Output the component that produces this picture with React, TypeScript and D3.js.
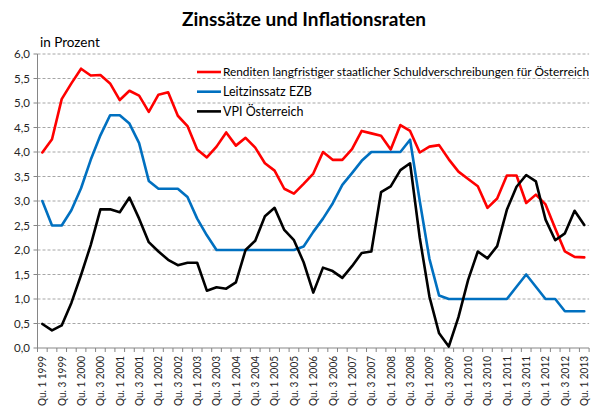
import React from "react";
import * as d3 from "d3";

const years = d3.range(1999, 2014);
const categories: string[] = [];
years.forEach((y) => {
  [1, 2, 3, 4].forEach((q) => {
    if (y < 2013 || q === 1) categories.push(`Qu. ${q} ${y}`);
  });
});

const rendite = [3.99, 4.26, 5.08, 5.40, 5.70, 5.56, 5.57, 5.40, 5.06, 5.25, 5.15, 4.82, 5.17, 5.22, 4.74, 4.53, 4.05, 3.89, 4.11, 4.40, 4.13, 4.29, 4.09, 3.77, 3.62, 3.25, 3.15, 3.35, 3.56, 4.00, 3.84, 3.84, 4.06, 4.43, 4.38, 4.33, 4.05, 4.55, 4.43, 3.99, 4.11, 4.14, 3.85, 3.60, 3.45, 3.30, 2.86, 3.05, 3.52, 3.52, 2.96, 3.13, 2.93, 2.44, 1.97, 1.86, 1.85];
const leitzins = [3.0, 2.5, 2.5, 2.81, 3.26, 3.84, 4.34, 4.75, 4.75, 4.58, 4.18, 3.41, 3.25, 3.25, 3.25, 3.08, 2.64, 2.30, 2.0, 2.0, 2.0, 2.0, 2.0, 2.0, 2.0, 2.0, 2.0, 2.07, 2.37, 2.64, 2.95, 3.33, 3.57, 3.82, 4.0, 4.0, 4.0, 4.0, 4.25, 3.0, 1.82, 1.07, 1.0, 1.0, 1.0, 1.0, 1.0, 1.0, 1.0, 1.25, 1.5, 1.25, 1.0, 1.0, 0.75, 0.75, 0.75];
const vpi = [0.49, 0.36, 0.46, 0.92, 1.49, 2.10, 2.83, 2.83, 2.77, 3.07, 2.64, 2.16, 1.97, 1.80, 1.69, 1.74, 1.74, 1.17, 1.24, 1.21, 1.34, 2.00, 2.19, 2.69, 2.86, 2.41, 2.20, 1.75, 1.13, 1.64, 1.57, 1.43, 1.67, 1.94, 1.97, 3.18, 3.30, 3.63, 3.77, 2.25, 1.05, 0.30, 0.03, 0.63, 1.39, 1.97, 1.83, 2.08, 2.82, 3.29, 3.53, 3.40, 2.62, 2.20, 2.34, 2.80, 2.51];

const seriesNames = [
  "Renditen langfristiger staatlicher Schuldverschreibungen für Österreich",
  "Leitzinssatz EZB",
  "VPI Österreich",
];
const seriesColors = ["#ff0000", "#0070c0", "#000000"];
const yTicks = d3.range(0, 6.01, 0.5);

const W = 603;
const H = 410;
const left = 37.5;
const right = 589.1;
const top = 54;
const bottom = 348;
const FONT = "Lato, 'Open Sans', sans-serif";

export default function App() {
  const x = d3.scaleBand<string>().domain(categories).range([left, right]).padding(0);
  const y = d3.scaleLinear().domain([0, 6]).range([bottom, top]);
  const cx = (i: number) => (x(categories[i]) as number) + x.bandwidth() / 2;
  const line = d3
    .line<number>()
    .x((_, i) => cx(i))
    .y((d) => y(d));
  const allSeries = [rendite, leitzins, vpi];
  const fmt = (v: number) => v.toFixed(1).replace(".", ",");

  return (
    <svg
      width={W}
      height={H}
      style={{ position: "absolute", left: 0, top: 0, background: "#fff" }}
      fontFamily={FONT}
    >
      <rect x={0} y={0} width={W} height={H} fill="#fff" />
      <text x={304} y={26} textAnchor="middle" fontSize={19} fontWeight="bold" fill="#000">
        Zinssätze und Inflationsraten
      </text>
      <text x={40} y={47} fontSize={13.5} fill="#000">
        in Prozent
      </text>
      {/* gridlines */}
      {yTicks.map((t) =>
        t > 0 ? (
          <line
            key={"g" + t}
            x1={left}
            x2={right}
            y1={y(t)}
            y2={y(t)}
            stroke="#a6a6a6"
            strokeWidth={1}
            strokeDasharray="3,2"
          />
        ) : null
      )}
      {/* y axis */}
      <line x1={left} x2={left} y1={top} y2={bottom} stroke="#868686" strokeWidth={1} />
      {yTicks.map((t) => (
        <g key={"yt" + t}>
          <line x1={left - 4} x2={left} y1={y(t)} y2={y(t)} stroke="#868686" />
          <text x={30} y={y(t)} dy="0.35em" textAnchor="end" fontSize={11.5} fill="#262626">
            {fmt(t)}
          </text>
        </g>
      ))}
      {/* x axis */}
      <line x1={left} x2={right} y1={bottom} y2={bottom} stroke="#868686" strokeWidth={1} />
      {d3.range(categories.length + 1).map((i) => {
        const xx = left + i * x.bandwidth();
        return <line key={"xt" + i} x1={xx} x2={xx} y1={bottom} y2={bottom + 4} stroke="#868686" />;
      })}
      {categories.map((c, i) =>
        i % 2 === 0 ? (
          <text
            key={"xl" + i}
            transform={`translate(${cx(i)},${356}) rotate(-90)`}
            textAnchor="end"
            dy="0.35em"
            fontSize={11}
            textLength={50}
            lengthAdjust="spacingAndGlyphs"
            fill="#262626"
          >
            {c}
          </text>
        ) : null
      )}
      {/* lines */}
      {allSeries.map((s, k) => (
        <path
          key={"s" + k}
          d={line(s) as string}
          fill="none"
          stroke={seriesColors[k]}
          strokeWidth={2.6}
          strokeLinejoin="round"
          strokeLinecap="round"
        />
      ))}
      {/* legend */}
      {seriesNames.map((n, k) => {
        const ly = 72 + k * 19.7;
        return (
          <g key={"lg" + k}>
            <line x1={197} x2={221} y1={ly} y2={ly} stroke={seriesColors[k]} strokeWidth={2.6} />
            <text
              x={223}
              y={ly}
              dy="0.35em"
              fontSize={k === 0 ? 12 : 12.5}
              fill="#000"
              {...(k === 0 ? { textLength: 366, lengthAdjust: "spacingAndGlyphs" } : {})}
            >
              {n}
            </text>
          </g>
        );
      })}
    </svg>
  );
}
